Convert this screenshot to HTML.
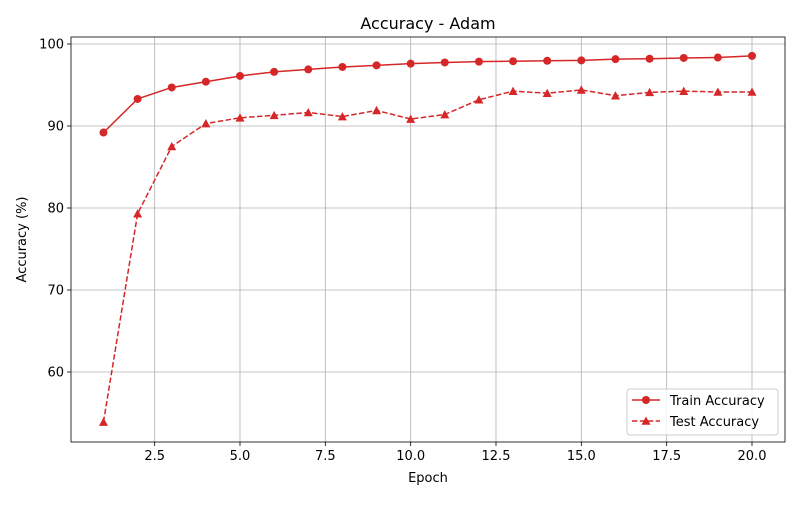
<!DOCTYPE html>
<html><head><meta charset="utf-8"><style>
body{margin:0;background:#fff;width:800px;height:500px;overflow:hidden}
text{font-family:"DejaVu Sans","Liberation Sans",sans-serif;fill:#000}
</style></head><body>
<svg id="chart" width="800" height="500"></svg>
<script>
const epochs=[1,2,3,4,5,6,7,8,9,10,11,12,13,14,15,16,17,18,19,20];
const trainAcc=[89.2,93.3,94.7,95.4,96.1,96.6,96.9,97.2,97.4,97.6,97.75,97.85,97.9,97.95,98.0,98.15,98.2,98.3,98.35,98.55];
const testAcc=[53.9,79.3,87.5,90.3,91.0,91.3,91.65,91.15,91.9,90.85,91.4,93.2,94.25,94.0,94.4,93.7,94.1,94.25,94.15,94.15];
const xTicks=[2.5,5.0,7.5,10.0,12.5,15.0,17.5,20.0];
const yTicks=[60,70,80,90,100];
const L=71,R=785,T=37,B=442;
const xs=v=>240+(v-5)*(752-240)/15;
const ys=v=>126+(90-v)*8.2;
const svg=document.getElementById('chart');
const NS='http://www.w3.org/2000/svg';
function mk(tag,attrs,parent){const e=document.createElementNS(NS,tag);for(const k in attrs)e.setAttribute(k,attrs[k]);(parent||svg).appendChild(e);return e;}
const C='#d62728';
xTicks.forEach(t=>{const l=mk('line',{x1:xs(t),x2:xs(t),y1:T,y2:B,stroke:'#b0b0b0','stroke-width':0.8});


mk('line',{x1:xs(t),x2:xs(t),y1:B,y2:B+4,stroke:'#000','stroke-width':0.8});
const tx=mk('text',{x:xs(t),y:B+18,'text-anchor':'middle','font-size':13});tx.textContent=t.toFixed(1);

});
yTicks.forEach(t=>{const l=mk('line',{x1:L,x2:R,y1:ys(t),y2:ys(t),stroke:'#b0b0b0','stroke-width':0.8});


mk('line',{x1:L-4,x2:L,y1:ys(t),y2:ys(t),stroke:'#000','stroke-width':0.8});
const tx=mk('text',{x:L-7,y:ys(t)+4.5,'text-anchor':'end','font-size':13});tx.textContent=t;

});
const frame=mk('rect',{x:L,y:T,width:R-L,height:B-T,fill:'none',stroke:'#000','stroke-width':0.8});


const trainLine=mk('polyline',{points:epochs.map((e,i)=>xs(e)+','+ys(trainAcc[i])).join(' '),fill:'none',stroke:C,'stroke-width':1.5});


epochs.forEach((e,i)=>{const c=mk('circle',{cx:xs(e),cy:ys(trainAcc[i]),r:4,fill:C});

});
const testLine=mk('polyline',{points:epochs.map((e,i)=>xs(e)+','+ys(testAcc[i])).join(' '),fill:'none',stroke:C,'stroke-width':1.5,'stroke-dasharray':'5.5,2.4'});


function tri(x,y){return `${x},${y-4.5} ${x-4.5},${y+3.8} ${x+4.5},${y+3.8}`;}
epochs.forEach((e,i)=>{const p=mk('polygon',{points:tri(xs(e),ys(testAcc[i])),fill:C});

});
const title=mk('text',{x:(L+R)/2,y:29,'text-anchor':'middle','font-size':16});title.textContent='Accuracy - Adam';


const xl=mk('text',{x:(L+R)/2,y:482,'text-anchor':'middle','font-size':13});xl.textContent='Epoch';


const yl=mk('text',{x:0,y:0,'text-anchor':'middle','font-size':13,transform:`translate(26,${(T+B)/2}) rotate(-90)`});yl.textContent='Accuracy (%)';


const lg=mk('g',{});


mk('rect',{x:627,y:389,width:151,height:46,rx:3,fill:'#fff','fill-opacity':0.8,stroke:'#ccc'},lg);
mk('line',{x1:632,x2:660,y1:400,y2:400,stroke:C,'stroke-width':1.5},lg);
mk('circle',{cx:646,cy:400,r:4,fill:C},lg);
const t1=mk('text',{x:670,y:405,'font-size':13},lg);t1.textContent='Train Accuracy';


mk('line',{x1:632,x2:660,y1:421,y2:421,stroke:C,'stroke-width':1.5,'stroke-dasharray':'5.5,2.4'},lg);
mk('polygon',{points:tri(646,421),fill:C},lg);
const t2=mk('text',{x:670,y:426,'font-size':13},lg);t2.textContent='Test Accuracy';


</script>
</body></html>
